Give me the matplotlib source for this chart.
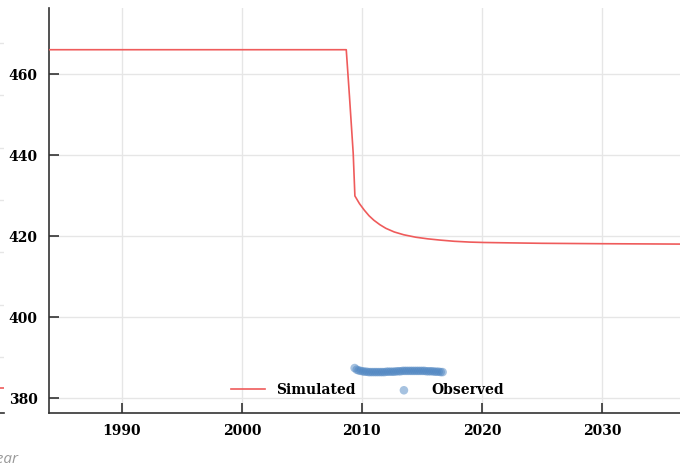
import matplotlib
matplotlib.use("Agg")
import matplotlib.pyplot as plt

# ---- data ----
sim_years = [1983.9, 2008.7, 2008.97, 2009.28, 2009.42, 2009.8, 2010.2, 2010.6,
             2011.0, 2011.5, 2012.0, 2012.7, 2013.5, 2014.5, 2015.5, 2016.5,
             2017.7, 2019.0, 2020.2, 2022.5, 2025.0, 2030.0, 2037.1]
sim_vals = [466.0, 466.0, 454.4, 440.4, 429.9, 428.0, 426.4, 425.0,
            423.9, 422.8, 421.9, 421.0, 420.3, 419.7, 419.3, 419.0,
            418.7, 418.5, 418.4, 418.3, 418.2, 418.1, 418.0]

obs_years = [2009.40, 2009.57, 2009.73, 2009.90, 2010.07, 2010.23, 2010.40, 2010.57,
             2010.73, 2010.90, 2011.07, 2011.23, 2011.40, 2011.57, 2011.73, 2011.90,
             2012.07, 2012.23, 2012.40, 2012.57, 2012.73, 2012.90, 2013.07, 2013.23,
             2013.40, 2013.57, 2013.73, 2013.90, 2014.07, 2014.23, 2014.40, 2014.57,
             2014.73, 2014.90, 2015.07, 2015.23, 2015.40, 2015.57, 2015.73, 2015.90,
             2016.07, 2016.23, 2016.40, 2016.57, 2016.73]
obs_vals = [387.4, 387.0, 386.8, 386.7, 386.6, 386.5, 386.5, 386.4,
            386.4, 386.4, 386.4, 386.4, 386.4, 386.4, 386.4, 386.4,
            386.5, 386.5, 386.5, 386.5, 386.5, 386.6, 386.6, 386.6,
            386.7, 386.7, 386.7, 386.7, 386.7, 386.7, 386.7, 386.7,
            386.7, 386.7, 386.7, 386.7, 386.6, 386.6, 386.6, 386.6,
            386.5, 386.5, 386.5, 386.4, 386.4]

x_ticks = [1990, 2000, 2010, 2020, 2030]
y_ticks = [380, 400, 420, 440, 460]

# neighbouring (cropped) panel remnants
left_grid = [0, 1, 2, 3, 4, 5, 6]
left_line = [-0.59, -0.59]

W, H = 680, 466
fig = plt.figure(figsize=(W / 100, H / 100), dpi=100)

tick_font = dict(family="DejaVu Serif", weight="bold", size=10)
spine_col = "#333333"
grid_col = "#e6e6e6"

ax_l, ax_r, ax_t, ax_b = 48.7, 687, 8, 413
ax = fig.add_axes([ax_l / W, (H - ax_b) / H, (ax_r - ax_l) / W, (ax_b - ax_t) / H])

ax.plot(sim_years, sim_vals, color="#ef5b5b", lw=1.2, label="Simulated", zorder=3)
ax.scatter(obs_years, obs_vals, s=38, color="#4f86c2", alpha=0.5, edgecolors="none",
           label="Observed", zorder=3)

ax.set_xlim(1983.9, 2037.1)
ax.set_ylim(376.3, 476.3)
ax.set_xticks(x_ticks)
ax.set_yticks(y_ticks)
ax.set_xticklabels([str(v) for v in x_ticks], fontdict=tick_font)
ax.set_yticklabels([str(v) for v in y_ticks], fontdict=tick_font)
ax.tick_params(axis="both", direction="in", length=7.5, width=1.2, color=spine_col, pad=8)
ax.grid(True, color=grid_col, lw=1.0, zorder=0)
ax.set_axisbelow(True)
for s in ["top", "right"]:
    ax.spines[s].set_visible(False)
for s in ["left", "bottom"]:
    ax.spines[s].set_color(spine_col)
    ax.spines[s].set_linewidth(1.2)

leg = ax.legend(loc="center", bbox_to_anchor=(0.5, 0.057), ncol=2, frameon=False,
                prop=dict(family="DejaVu Serif", weight="bold", size=10),
                handlelength=2.4, handletextpad=0.8, columnspacing=2.3)

# cropped neighbouring panel at far left
axn = fig.add_axes([-0.2, (H - ax_b) / H, 0.2 + 4 / W, (ax_b - ax_t) / H])
axn.set_ylim(-1.07, 6.67)
axn.set_xlim(0, 1)
axn.set_yticks(left_grid)
axn.set_xticks([])
axn.tick_params(left=False, labelleft=False)
axn.grid(True, axis="y", color=grid_col, lw=1.0)
axn.plot([0.9, 1.0], left_line, color="#ef5b5b", lw=1.2)
for s in ["top", "right", "left"]:
    axn.spines[s].set_visible(False)
axn.spines["bottom"].set_color(spine_col)
axn.spines["bottom"].set_linewidth(1.2)

fig.text(19 / W, (H - 463) / H, "Year", ha="right", va="baseline", fontsize=11,
         style="italic", color="#999999", family="Open Sans")

fig.savefig("out.png", dpi=100)
